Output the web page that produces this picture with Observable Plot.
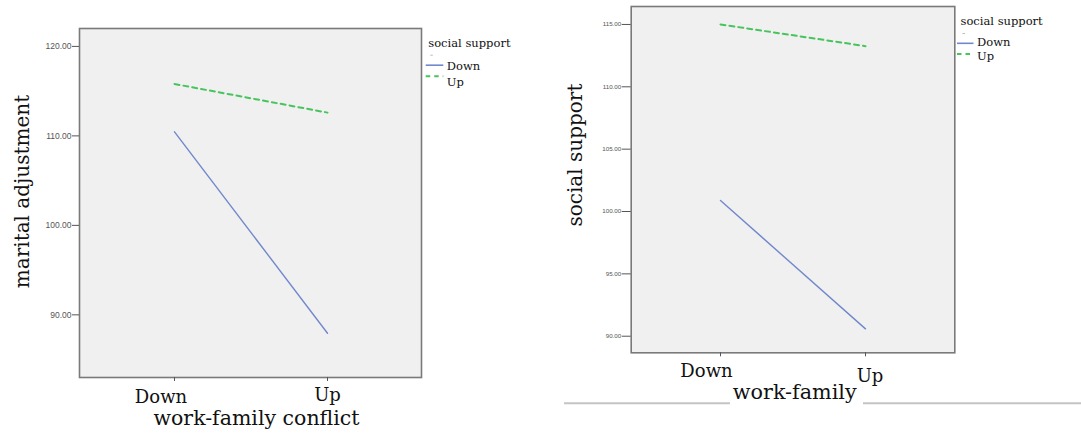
<!DOCTYPE html>
<html>
<head>
<meta charset="utf-8">
<script src="https://cdn.jsdelivr.net/npm/d3@7"></script>
<script src="https://cdn.jsdelivr.net/npm/@observablehq/plot@0.6"></script>
<style>
  html, body { margin: 0; padding: 0; background: #fff; }
  #page { position: relative; width: 1081px; height: 438px; overflow: hidden; background: #fff; }
  #page > svg, #page > div { position: absolute; }
</style>
</head>
<body>
<div id="page"></div>
<script>
// ---- data ----
const conditions = ["Down", "Up"];            // work-family conflict levels (x)
const supportGroups = ["Down", "Up"];         // social support groups (series)
const maritalDown = [110.45, 87.95];
const maritalUp = [115.8, 112.6];
const supportDown = [100.88, 90.59];
const supportUp = [115.0, 113.26];
const leftTicks = [90, 100, 110, 120];
const rightTicks = [90, 95, 100, 105, 110, 115];
const leftDomain = [83, 122];
const rightDomain = [88.67, 116.44];
const legendTitle = "social support";
const leftYLabel = "marital adjustment";
const leftXLabel = "work-family conflict";
const rightYLabel = "social support";
const rightXLabel = "work-family";

const blue = "#7288cc";
const green = "#48c45c";
const serif = "DejaVu Serif";
const sans = "Liberation Sans";

function rows(downVals, upVals) {
  const out = [];
  conditions.forEach((c, i) => {
    out.push({wfc: c, group: "Down", value: downVals[i]});
    out.push({wfc: c, group: "Up", value: upVals[i]});
  });
  return out;
}

function panel(cfg) {
  const data = rows(cfg.down, cfg.up);
  return Plot.plot({
    width: cfg.width,
    height: cfg.height,
    marginLeft: cfg.ml, marginRight: cfg.mr, marginTop: cfg.mt, marginBottom: cfg.mb,
    style: {background: "transparent", overflow: "visible"},
    x: {type: "point", domain: conditions, padding: 0.611},
    y: {domain: cfg.domain},
    marks: [
      Plot.frame({fill: "#f0f0f0", stroke: "none"}),
      Plot.line(data.filter(d => d.group === "Down"), {x: "wfc", y: "value", stroke: blue, strokeWidth: 1.4}),
      Plot.line(data.filter(d => d.group === "Up"), {x: "wfc", y: "value", stroke: green, strokeWidth: 2, strokeDasharray: "5,4"}),
      Plot.frame({stroke: "#7a7a7a", strokeWidth: 1.6}),
      Plot.axisY({ticks: cfg.ticks, tickFormat: d3.format(".2f"), tickSize: cfg.tickSize, tickPadding: 1,
                  fontSize: cfg.tickFont, fontFamily: sans, fill: "#555", stroke: "#555", label: null}),
      Plot.axisX({tickSize: 4, tickFormat: () => "", stroke: "#555", label: null}),
      Plot.text([conditions[0]], {x: d => d, text: d => d, frameAnchor: "bottom", lineAnchor: "bottom", textAnchor: "middle",
                  dx: cfg.downDx, dy: cfg.downDy, fontSize: 18, fontFamily: serif, fill: "#111"}),
      Plot.text([conditions[1]], {x: d => d, text: d => d, frameAnchor: "bottom", lineAnchor: "bottom", textAnchor: "middle",
                  dx: cfg.upDx, dy: cfg.upDy, fontSize: 18, fontFamily: serif, fill: "#111"}),
      Plot.text([cfg.xLabel], {text: d => d, frameAnchor: "bottom", lineAnchor: "bottom", textAnchor: "middle",
                  dx: cfg.xlDx, dy: cfg.xlDy, fontSize: cfg.xlFont, fontFamily: serif, fill: "#111"}),
      Plot.text([cfg.yLabel], {text: d => d, frameAnchor: "left", rotate: -90, lineAnchor: "middle", textAnchor: "middle",
                  dx: cfg.ylDx, dy: cfg.ylDy, fontSize: 20, fontFamily: serif, fill: "#111"})
    ]
  });
}

const page = document.getElementById("page");

const left = panel({
  width: 430, height: 438, ml: 79, mr: 9, mt: 28, mb: 61,
  domain: leftDomain, ticks: leftTicks, tickSize: 7, tickFont: 8.5,
  down: maritalDown, up: maritalUp,
  downDx: -13.5, downDy: 25, upDx: 0, upDy: 23,
  xLabel: leftXLabel, xlDx: 6, xlDy: 47, xlFont: 20.5,
  yLabel: leftYLabel, ylDx: -57, ylDy: -11.5
});
left.style.left = "0px"; left.style.top = "0px";
page.appendChild(left);

const right = panel({
  width: 430, height: 438, ml: 90.7, mr: 15.7, mt: 6, mb: 85.7,
  domain: rightDomain, ticks: rightTicks, tickSize: 9, tickFont: 6.2,
  down: supportDown, up: supportUp,
  downDx: -14, downDy: 24.4, upDx: 4.5, upDy: 29.4,
  xLabel: rightXLabel, xlDx: 1.7, xlDy: 46, xlFont: 20.7,
  yLabel: rightYLabel, ylDx: -56, ylDy: -24.6
});
right.style.left = "540px"; right.style.top = "0px";
page.appendChild(right);

// ---- legends and page rules (overlay) ----
const ov = d3.select(page).append("svg")
  .attr("width", 1081).attr("height", 438)
  .style("left", "0px").style("top", "0px").style("overflow", "visible");

function legend(x0, titleY, rowY, lineX0, lineX1, fs) {
  const g = ov.append("g").attr("font-family", serif).attr("font-size", fs).attr("fill", "#111");
  g.append("text").attr("x", x0).attr("y", titleY).text(legendTitle);
  g.append("line").attr("x1", x0 + 2).attr("x2", x0 + 4.5).attr("y1", titleY + 8.5).attr("y2", titleY + 8.5)
    .attr("stroke", "#bbb").attr("stroke-width", 1);
  supportGroups.forEach((name, i) => {
    const y = rowY[i];
    g.append("line").attr("x1", lineX0).attr("x2", lineX1).attr("y1", y.line).attr("y2", y.line)
      .attr("stroke", i === 0 ? blue : green).attr("stroke-width", i === 0 ? 1.6 : 2)
      .attr("stroke-dasharray", i === 0 ? null : "4.5,4");
    g.append("text").attr("x", lineX1 + 3.5).attr("y", y.text).text(name);
  });
}
legend(428.3, 46.7, [{line: 65.2, text: 70}, {line: 76.3, text: 86}], 425.7, 443.3, 11.5);
legend(960.5, 25, [{line: 43.3, text: 45.7}, {line: 54, text: 59.6}], 957, 973.5, 11.5);

// grey rules under right panel
ov.append("line").attr("x1", 564).attr("x2", 730).attr("y1", 403.3).attr("y2", 403.3)
  .attr("stroke", "#c4c4c4").attr("stroke-width", 2);
ov.append("line").attr("x1", 863).attr("x2", 1081).attr("y1", 403.3).attr("y2", 403.3)
  .attr("stroke", "#c4c4c4").attr("stroke-width", 2);
</script>
</body>
</html>
